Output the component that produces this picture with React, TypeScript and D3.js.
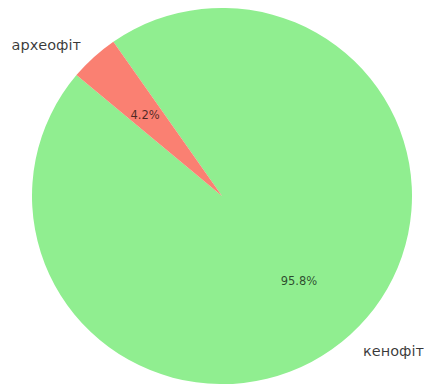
import React from "react";
import * as d3 from "d3";

const categories = ["кенофіт", "археофіт"];
const values = [95.8, 4.2];
const colors = ["#90EE90", "#FA8072"];

const W = 428;
const H = 387;
const cx = 222;
const cy = 196;
const R = 190;
const SY = 0.99;
const START_DEG = 140;

export default function App() {
  const pie = d3
    .pie<number>()
    .sort(null)
    .value((d) => d)
    .startAngle(((90 - START_DEG) * Math.PI) / 180)
    .endAngle(((90 - START_DEG - 360) * Math.PI) / 180);
  const arcs = pie(values);
  const arc = d3.arc<d3.PieArcDatum<number>>().innerRadius(0).outerRadius(R);
  const labelArc = d3.arc<d3.PieArcDatum<number>>().innerRadius(R * 1.1).outerRadius(R * 1.1);
  const pctArc = d3.arc<d3.PieArcDatum<number>>().innerRadius(R * 0.6).outerRadius(R * 0.6);
  const total = d3.sum(values);
  const font = "'DejaVu Sans', sans-serif";

  return (
    <svg
      width={W}
      height={H}
      style={{ position: "absolute", left: 0, top: 0, background: "#fff" }}
    >
      <g transform={`translate(${cx},${cy}) scale(1,${SY})`}>
        {arcs.map((a, i) => (
          <path key={i} d={arc(a) || ""} fill={colors[i]} />
        ))}
      </g>
      {arcs.map((a, i) => {
        const [lx, ly] = labelArc.centroid(a);
        const [px, py] = pctArc.centroid(a);
        return (
          <g key={i}>
            <text
              x={cx + lx}
              y={cy + ly * SY + 2}
              textAnchor={lx < 0 ? "end" : "start"}
              dominantBaseline="central"
              fontFamily={font}
              fontSize={14.5}
              fill="#000"
              fillOpacity={0.78}
            >
              {categories[i]}
            </text>
            <text
              x={cx + px}
              y={cy + py * SY + 2}
              textAnchor="middle"
              dominantBaseline="central"
              fontFamily={font}
              fontSize={11.5}
              fill="#000"
              fillOpacity={0.7}
            >
              {((values[i] / total) * 100).toFixed(1)}%
            </text>
          </g>
        );
      })}
    </svg>
  );
}
